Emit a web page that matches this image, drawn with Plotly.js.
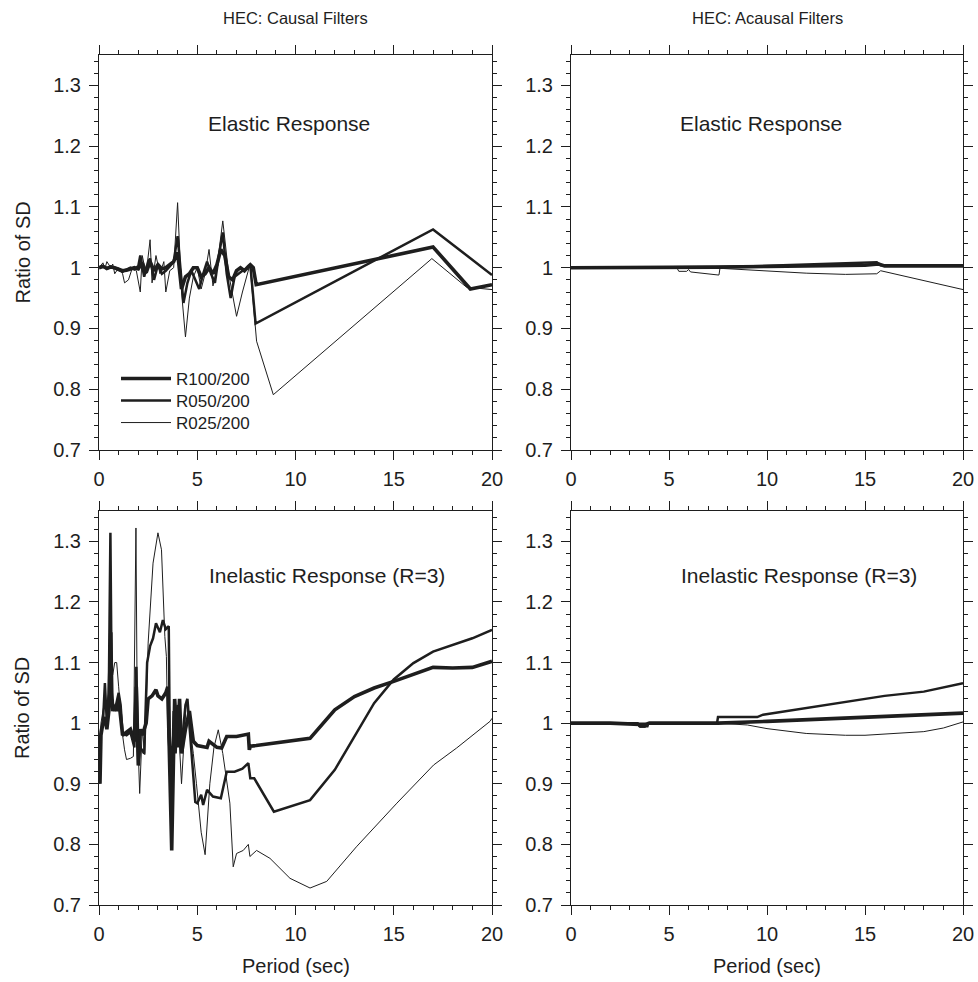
<!DOCTYPE html>
<html><head><meta charset="utf-8">
<script src="https://cdn.plot.ly/plotly-3.0.1.min.js"></script>
<style>html,body{margin:0;padding:0;background:#fff}</style>
</head><body><div id="chart" style="width:978px;height:982px"></div>
<script>
// ---------- data ----------
const seriesNames = ['R100/200', 'R050/200', 'R025/200'];
const panelLabels = ['Elastic Response', 'Elastic Response', 'Inelastic Response (R=3)', 'Inelastic Response (R=3)'];
const columnTitles = ['HEC: Causal Filters', 'HEC: Acausal Filters'];
const xTickVals = [0, 5, 10, 15, 20];
const xTickText = ['0', '5', '10', '15', '20'];
const yTickVals = [0.7, 0.8, 0.9, 1.0, 1.1, 1.2, 1.3];
const yTickText = ['0.7', '0.8', '0.9', '1', '1.1', '1.2', '1.3'];

// Causal, elastic
const ceX100 = [0,0.2,0.4,0.6,0.8,1.0,1.2,1.4,1.6,1.8,2.0,2.2,2.4,2.6,2.8,3.0,3.2,3.4,3.6,3.8,4.0,4.2,4.4,4.6,4.8,5.0,5.2,5.4,5.6,5.8,6.0,6.2,6.4,6.6,6.8,7.0,7.2,7.4,7.6,7.7,7.85,8.0,17.0,18.9,20];
const ceY100 = [1.0,1.002,0.999,1.001,1.0,0.997,0.995,0.996,0.998,1.0,0.998,1.008,0.992,1.01,0.995,1.005,0.998,1.0,1.005,1.01,1.025,0.965,0.985,0.99,1.0,1.0,0.985,0.99,1.0,0.99,1.005,1.03,1.02,0.985,0.98,0.995,1.0,0.995,1.002,1.005,1.0,0.972,1.034,0.965,0.972];
const ceX050 = [0,0.2,0.4,0.6,0.8,1.0,1.2,1.4,1.6,1.8,2.0,2.1,2.3,2.5,2.6,2.8,3.0,3.2,3.4,3.6,3.8,4.0,4.2,4.3,4.5,4.7,4.9,5.1,5.3,5.5,5.7,5.9,6.1,6.3,6.5,6.7,6.9,7.1,7.3,7.5,7.7,7.97,17.0,20];
const ceY050 = [1.0,1.003,0.998,1.002,0.999,0.996,0.993,0.997,1.0,0.997,1.003,1.02,0.985,1.01,1.015,0.98,1.005,0.99,0.995,1.002,1.01,1.052,0.97,0.942,0.975,0.995,0.98,0.965,0.99,1.01,0.99,0.975,1.02,1.058,0.99,0.95,0.985,0.99,0.995,0.998,1.005,0.908,1.063,0.988];
const ceX025 = [0,0.2,0.3,0.4,0.6,0.7,0.8,1.0,1.2,1.3,1.5,1.7,1.9,2.1,2.2,2.4,2.6,2.7,2.9,3.1,3.3,3.4,3.6,3.8,4.0,4.2,4.4,4.6,4.8,5.0,5.2,5.4,5.6,5.8,6.0,6.3,6.6,7.0,7.3,7.68,8.02,8.87,16.94,18.7,20];
const ceY025 = [1.0,1.008,0.998,1.01,1.0,1.006,0.99,1.0,0.99,0.975,0.98,1.0,0.995,0.96,1.02,0.99,1.046,0.975,1.02,0.99,1.01,0.96,0.995,1.0,1.107,0.96,0.886,0.95,0.985,1.0,0.965,0.99,1.03,0.97,1.0,1.077,0.99,0.92,0.96,1.005,0.879,0.791,1.015,0.968,0.964];

// Acausal, elastic
const aeX100 = [0,5,7.5,10,15,15.7,16,20];
const aeY100 = [1.0,1.0,1.001,1.002,1.004,1.006,1.003,1.003];
const aeX050 = [0,7.5,10,12,14,15.6,15.8,20];
const aeY050 = [1.0,1.001,1.003,1.005,1.007,1.009,1.004,1.004];
const aeX025 = [0,5.4,5.5,5.9,6.0,6.1,7.5,7.55,7.6,10,12,14,15.6,15.8,20];
const aeY025 = [1.0,1.0,0.994,0.994,0.997,0.993,0.988,0.988,0.999,0.995,0.991,0.989,0.99,0.995,0.964];

// Causal, inelastic
const ciX100 = [0,0.05,0.1,0.2,0.3,0.4,0.5,0.6,0.65,0.7,0.8,0.9,1.0,1.1,1.2,1.4,1.6,1.8,1.9,2.0,2.1,2.2,2.4,2.5,2.7,2.9,3.0,3.2,3.4,3.5,3.6,3.7,3.85,4.0,4.1,4.2,4.4,4.6,4.8,5.0,5.5,5.6,6.0,6.24,6.5,7.0,7.6,7.65,7.7,8.0,10.74,12.0,13,14,15,16,17,18,19,20];
const ciY100 = [0.91,0.9,0.98,1.0,1.01,0.99,1.02,1.15,1.05,1.02,1.03,1.02,1.04,1.01,0.98,0.985,0.99,0.97,1.06,0.93,0.99,0.98,1.0,1.04,1.045,1.055,1.045,1.04,1.05,1.06,0.95,0.79,1.04,0.96,1.04,0.95,0.99,1.02,0.97,0.963,0.96,0.97,0.96,0.959,0.978,0.978,0.982,0.956,0.962,0.963,0.975,1.022,1.044,1.058,1.069,1.08,1.092,1.091,1.092,1.102];
const ciX050 = [0,0.1,0.2,0.3,0.4,0.5,0.58,0.65,0.8,1.0,1.1,1.2,1.4,1.6,1.8,1.9,2.0,2.1,2.3,2.45,2.6,2.75,2.9,3.1,3.25,3.4,3.55,3.6,3.7,3.8,3.9,4.0,4.2,4.4,4.5,4.6,4.8,4.9,5.0,5.2,5.3,5.5,5.8,6.2,6.5,6.9,7.3,7.6,7.7,7.9,8.9,10.74,12,13,14,15,16,17,18,19,20];
const ciY050 = [0.96,0.99,1.0,1.066,1.0,1.05,1.314,1.04,1.02,1.05,1.03,0.983,0.98,0.985,0.96,1.093,0.934,0.96,0.95,1.1,1.127,1.14,1.165,1.15,1.17,1.155,1.16,0.98,0.9,1.02,0.95,1.03,0.96,1.03,1.04,1.0,0.92,0.87,0.868,0.882,0.865,0.89,0.879,0.876,0.92,0.92,0.925,0.934,0.909,0.909,0.854,0.873,0.923,0.978,1.033,1.072,1.099,1.118,1.129,1.14,1.154];
const ciX025 = [0,0.1,0.2,0.3,0.4,0.5,0.6,0.7,0.8,0.9,1.0,1.1,1.2,1.3,1.4,1.6,1.75,1.88,1.95,2.07,2.2,2.33,2.5,2.75,3.0,3.18,3.35,3.43,3.5,3.6,3.7,3.8,4.0,4.2,4.45,4.6,4.8,4.96,5.2,5.4,5.64,5.85,6.07,6.3,6.66,6.83,7.0,7.34,7.6,7.68,8.02,8.7,9.72,10.74,11.59,13.1,15.16,17.03,18.2,19.9,20];
const ciY025 = [0.93,1.0,1.02,1.04,1.03,1.05,1.09,1.08,1.1,1.1,1.06,1.02,0.98,0.956,0.94,0.942,0.945,1.322,1.0,0.884,0.99,0.948,1.132,1.264,1.314,1.286,1.143,1.11,0.98,0.93,0.88,0.97,1.02,0.9,1.04,1.0,0.95,0.9,0.82,0.783,0.9,0.96,0.989,0.95,0.868,0.763,0.785,0.79,0.8,0.78,0.79,0.777,0.744,0.728,0.739,0.796,0.868,0.931,0.959,1.003,1.008];

// Acausal, inelastic
const aiX100 = [0,2,3.5,3.8,4.0,7.5,10,15,20];
const aiY100 = [1.0,1.0,0.998,0.998,1.0,1.0,1.003,1.01,1.0165];
const aiX050 = [0,3.4,3.5,3.9,3.95,7.45,7.5,9.5,9.8,12,14,15,16,18,20];
const aiY050 = [1.0,1.0,0.995,0.995,1.0,1.0,1.01,1.01,1.014,1.025,1.034,1.04,1.045,1.052,1.066];
const aiX025 = [0,3.3,3.5,3.8,3.9,7.5,9,10,12,14,15,16,18,19,20];
const aiY025 = [1.0,1.0,0.993,0.993,1.0,1.0,0.997,0.991,0.983,0.98,0.98,0.982,0.986,0.992,1.002];

// ---------- styling ----------
const INK = '#1e1e1e';
const FONT = 'Liberation Sans, Arial, Helvetica, sans-serif';
const widths = [3.6, 2.5, 1.0];
const legendIds = ['legend', 'legend2', 'legend3'];

const panels = [
  {xs:[ceX100,ceX050,ceX025], ys:[ceY100,ceY050,ceY025], xa:'x',  ya:'y'},
  {xs:[aeX100,aeX050,aeX025], ys:[aeY100,aeY050,aeY025], xa:'x2', ya:'y2'},
  {xs:[ciX100,ciX050,ciX025], ys:[ciY100,ciY050,ciY025], xa:'x3', ya:'y3'},
  {xs:[aiX100,aiX050,aiX025], ys:[aiY100,aiY050,aiY025], xa:'x4', ya:'y4'}
];

const traces = [];
panels.forEach((p, pi) => {
  for (let k = 0; k < 3; k++) {
    traces.push({
      type: 'scatter', mode: 'lines',
      x: p.xs[k], y: p.ys[k], xaxis: p.xa, yaxis: p.ya,
      name: seriesNames[k], showlegend: pi === 0, legend: legendIds[k],
      line: {color: INK, width: widths[k], shape: 'linear'},
      hoverinfo: 'skip'
    });
  }
});

const W = 978, H = 982;
const xDomL = [99/W, 492/W], xDomR = [571/W, 963/W];
const yDomT = [1 - 450/H, 1 - 55/H], yDomB = [1 - 905/H, 1 - 511/H];

function xAxis(domain, anchor) {
  return {
    domain, anchor, range: [0, 20], tickmode: 'array', tickvals: xTickVals, ticktext: xTickText,
    ticks: 'outside', ticklen: 9, tickwidth: 1, tickcolor: INK,
    minor: {dtick: 1, tick0: 0, ticks: 'outside', ticklen: 4, tickwidth: 1, tickcolor: INK, showgrid: false},
    showline: true, linecolor: INK, linewidth: 1, mirror: 'ticks',
    showgrid: false, zeroline: false, fixedrange: true,
    tickfont: {family: FONT, size: 20, color: INK}, ticklabelstandoff: 2
  };
}
function yAxis(domain, anchor) {
  return {
    domain, anchor, range: [0.7, 1.35], tickmode: 'array', tickvals: yTickVals, ticktext: yTickText,
    ticks: 'outside', ticklen: 9, tickwidth: 1, tickcolor: INK,
    minor: {dtick: 0.02, tick0: 0.7, ticks: 'outside', ticklen: 4, tickwidth: 1, tickcolor: INK, showgrid: false},
    showline: true, linecolor: INK, linewidth: 1, mirror: 'ticks',
    showgrid: false, zeroline: false, fixedrange: true,
    tickfont: {family: FONT, size: 20, color: INK}, ticklabelstandoff: 4
  };
}

const annotations = [];
const labelPos = [
  {x: 9.65, y: 1.238, xref: 'x', yref: 'y'},
  {x: 9.68, y: 1.238, xref: 'x2', yref: 'y2'},
  {x: 11.59, y: 1.243, xref: 'x3', yref: 'y3'},
  {x: 11.64, y: 1.243, xref: 'x4', yref: 'y4'}
];
labelPos.forEach((p, i) => annotations.push({
  text: panelLabels[i], x: p.x, y: p.y, xref: p.xref, yref: p.yref,
  showarrow: false, xanchor: 'center', yanchor: 'middle',
  font: {family: FONT, size: 21, color: INK}
}));
[xDomL, xDomR].forEach((d, i) => annotations.push({
  text: columnTitles[i], x: (d[0] + d[1]) / 2, y: 1 - 18/H, xref: 'paper', yref: 'paper',
  showarrow: false, xanchor: 'center', yanchor: 'middle',
  font: {family: FONT, size: 16.5, color: INK}
}));
[yDomT, yDomB].forEach(d => annotations.push({
  text: 'Ratio of SD', x: 22/W, y: (d[0] + d[1]) / 2, xref: 'paper', yref: 'paper',
  showarrow: false, textangle: -90, xanchor: 'center', yanchor: 'middle',
  font: {family: FONT, size: 20, color: INK}
}));
[xDomL, xDomR].forEach(d => annotations.push({
  text: 'Period (sec)', x: (d[0] + d[1]) / 2, y: 1 - 966/H, xref: 'paper', yref: 'paper',
  showarrow: false, xanchor: 'center', yanchor: 'middle',
  font: {family: FONT, size: 20, color: INK}
}));

function legendBox(centerY) {
  return {
    x: 116/W, y: 1 - (centerY - 17)/H, xanchor: 'left', yanchor: 'top',
    bgcolor: 'rgba(0,0,0,0)', borderwidth: 0, itemwidth: 50,
    font: {family: FONT, size: 17, color: INK}
  };
}

const layout = {
  width: W, height: H, autosize: false,
  margin: {l: 0, r: 0, t: 0, b: 0, pad: 0},
  paper_bgcolor: '#fff', plot_bgcolor: '#fff',
  font: {family: FONT, color: INK},
  showlegend: true,
  legend: legendBox(378),
  legend2: legendBox(400),
  legend3: legendBox(422),
  xaxis: xAxis(xDomL, 'y'), yaxis: yAxis(yDomT, 'x'),
  xaxis2: xAxis(xDomR, 'y2'), yaxis2: yAxis(yDomT, 'x2'),
  xaxis3: xAxis(xDomL, 'y3'), yaxis3: yAxis(yDomB, 'x3'),
  xaxis4: xAxis(xDomR, 'y4'), yaxis4: yAxis(yDomB, 'x4'),
  annotations
};

Plotly.newPlot('chart', traces, layout, {staticPlot: true, displayModeBar: false});
</script>
</body></html>
